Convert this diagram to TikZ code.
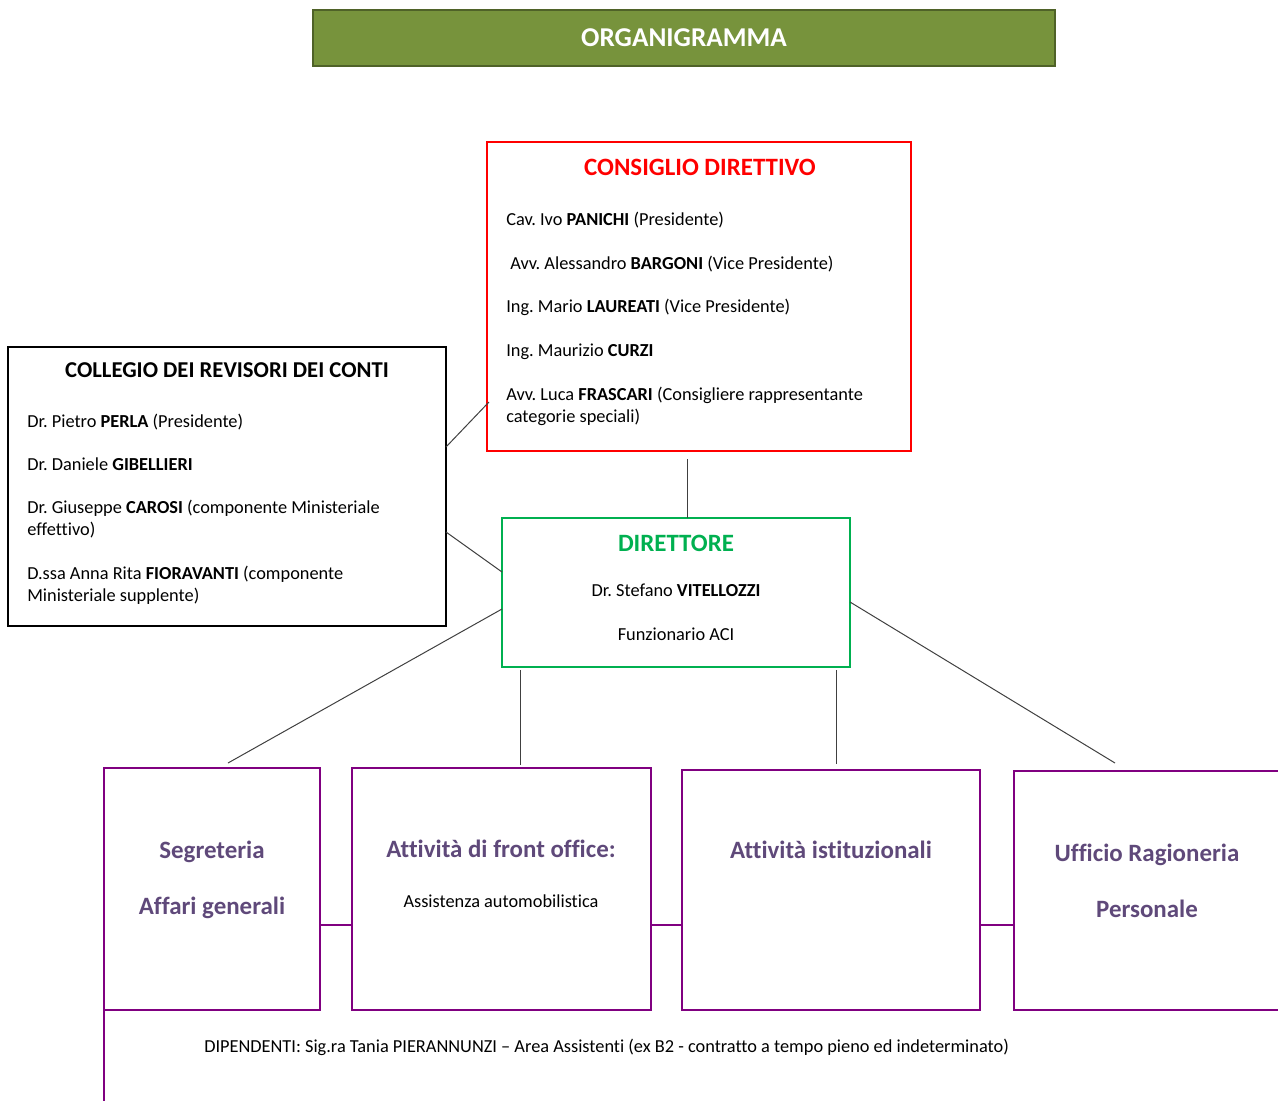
\documentclass[tikz,border=0pt]{standalone}
\usepackage{fontspec}
\setmainfont[Ligatures=NoCommon]{Carlito}
\usetikzlibrary{calc}
\frenchspacing
\definecolor{boxpurple}{RGB}{128,0,128}
\definecolor{txtpurple}{RGB}{95,73,122}
\definecolor{titlefill}{RGB}{119,147,60}
\definecolor{titledraw}{RGB}{79,98,40}
\definecolor{dirgreen}{RGB}{0,176,80}
\definecolor{consred}{RGB}{255,0,0}
\definecolor{connc}{RGB}{64,64,64}
\tikzset{
  conn/.style={draw=connc, line width=0.75pt},
  body/.style={font=\fontsize{13.75}{15.8}\selectfont\frenchspacing, inner sep=0pt, anchor=base west, align=left},
  bodyc/.style={font=\fontsize{13.75}{15.8}\selectfont\frenchspacing, inner sep=0pt, anchor=base},
  head/.style={font=\fontsize{18.7}{22}\selectfont\bfseries, inner sep=0pt, anchor=base},
  framebox/.style={anchor=north west, inner sep=0pt, outer sep=0pt, line width=1.9pt},
  unit/.style={framebox, draw=boxpurple},
  ptext/.style={font=\fontsize{18.7}{22}\selectfont\bfseries, text=txtpurple, inner sep=0pt, anchor=base},
}
\begin{document}
\begin{tikzpicture}[x=0.75pt,y=-0.75pt]
\useasboundingbox (0,0) rectangle (1278,1100);
% title
\node[fill=titlefill, draw=titledraw, line width=1.5pt, minimum width=556.5pt, minimum height=42pt,
      inner sep=0pt, text=white, font=\fontsize{20.4}{24}\selectfont\bfseries] (title) at (684,38) {ORGANIGRAMMA};
% boxes
\node[framebox, draw=consred, line width=2.2pt, minimum width=318pt, minimum height=231.75pt] (cons) at (487,142) {};
\node[framebox, draw=black, line width=2.2pt, minimum width=328.5pt, minimum height=209.25pt] (coll) at (8,347) {};
\node[framebox, draw=dirgreen, minimum width=261pt, minimum height=111.75pt] (dir) at (502,518) {};
\node[unit, minimum width=162pt, minimum height=181.5pt] (b1) at (104,768) {};
\node[unit, minimum width=224.25pt, minimum height=181.5pt] (b2) at (352,768) {};
\node[unit, minimum width=223.5pt, minimum height=180pt] (b3) at (682,770) {};
\node[unit, minimum width=201pt, minimum height=179.25pt] (b4) at (1014,771) {};
% consiglio text
\node[head, text=consred] (consh) at (700,175) {CONSIGLIO DIRETTIVO};
\node[body] (c1) at (506,225) {Cav. Ivo \textbf{PANICHI} (Presidente)};
\node[body] (c2) at (510,269) {Avv. Alessandro \textbf{BARGONI} (Vice Presidente)};
\node[body] (c3) at (506,312) {Ing. Mario \textbf{LAUREATI} (Vice Presidente)};
\node[body] (c4) at (506,356) {Ing. Maurizio \textbf{CURZI}};
\node[body] (c5) at (506,422) {Avv. Luca \textbf{FRASCARI} (Consigliere rappresentante\\categorie speciali)};
% collegio text
\node[head, font=\fontsize{17}{20}\selectfont\bfseries] (collh) at (227,377) {COLLEGIO DEI REVISORI DEI CONTI};
\node[body] (r1) at (27,427) {Dr. Pietro \textbf{PERLA} (Presidente)};
\node[body] (r2) at (27,470) {Dr. Daniele \textbf{GIBELLIERI}};
\node[body] (r3) at (27,535) {Dr. Giuseppe \textbf{CAROSI} (componente Ministeriale\\effettivo)};
\node[body] (r4) at (27,601) {D.ssa Anna Rita \textbf{FIORAVANTI} (componente\\Ministeriale supplente)};
% direttore text
\node[head, text=dirgreen] (dirh) at (676,551) {DIRETTORE};
\node[bodyc] (d1) at (676,596) {Dr. Stefano \textbf{VITELLOZZI}};
\node[bodyc] (d2) at (676,640) {Funzionario ACI};
% unit texts
\node[ptext] (u1a) at (212,858) {Segreteria};
\node[ptext] (u1b) at (212,914) {Affari generali};
\node[ptext] (u2a) at (501,857) {Attività di front office:};
\node[bodyc] (u2b) at (501,907) {Assistenza automobilistica};
\node[ptext] (u3a) at (831,858) {Attività istituzionali};
\node[ptext] (u4a) at (1147,861) {Ufficio Ragioneria};
\node[ptext] (u4b) at (1147,917) {Personale};
\node[body] (dip) at (204,1052) {DIPENDENTI: Sig.ra Tania PIERANNUNZI – Area Assistenti (ex B2 - contratto a tempo pieno ed indeterminato)};
% connectors
\coordinate (ylink) at (0,925);
\coordinate (bottomend) at (104,1106);
\draw[conn] ($(coll.north east)+(0,100)$) -- ($(cons.north west)+(2,260)$);
\draw[conn] ($(coll.north east)+(0,185)$) -- ($(dir.north west)+(0,54)$);
\draw[conn] ($(cons.south)+(-12,8)$) -- ($(dir.north)+(11,0)$);
\draw[conn] ($(dir.north west)+(0,91)$) -- ($(b1.north)+(16,-5)$);
\draw[conn] ($(dir.south west)+(18,3)$) -- ($(b2.north west)+(168,-3)$);
\draw[conn] ($(dir.south west)+(334,3)$) -- ($(b3.north west)+(154,-6)$);
\draw[conn] ($(dir.north east)+(0,84)$) -- ($(b4.north west)+(101,-8)$);
\draw[boxpurple, line width=1.9pt] (b1.east |- ylink) -- (b2.west |- ylink);
\draw[boxpurple, line width=1.9pt] (b2.east |- ylink) -- (b3.west |- ylink);
\draw[boxpurple, line width=1.9pt] (b3.east |- ylink) -- (b4.west |- ylink);
\draw[boxpurple, line width=1.9pt] (b1.south west) -- (bottomend);
\end{tikzpicture}
\end{document}
